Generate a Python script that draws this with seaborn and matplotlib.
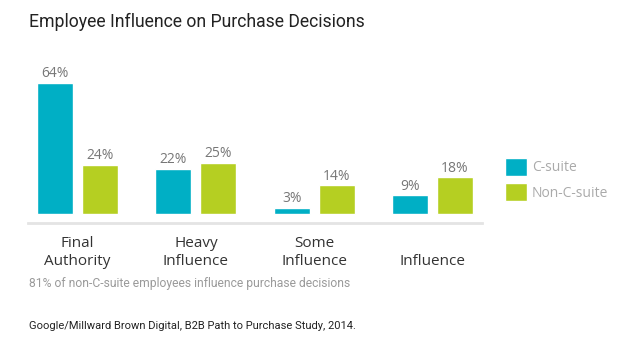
import matplotlib
matplotlib.use("Agg")
import matplotlib.pyplot as plt
import seaborn as sns
import pandas as pd

categories = ["Final\nAuthority", "Heavy\nInfluence", "Some\nInfluence", "Influence"]
series_names = ["C-suite", "Non-C-suite"]
c_suite = [64, 22, 3, 9]
non_c_suite = [24, 25, 14, 18]

title = "Employee Influence on Purchase Decisions"
subtitle = "81% of non-C-suite employees influence purchase decisions"
source = "Google/Millward Brown Digital, B2B Path to Purchase Study, 2014."

TEAL = "#00AFC5"
LIME = "#B5CF22"

df = pd.DataFrame({
    "category": categories * 2,
    "series": [series_names[0]] * 4 + [series_names[1]] * 4,
    "value": c_suite + non_c_suite,
})

sns.set_theme(style="white")
plt.rcParams["font.family"] = ["Open Sans", "DejaVu Sans"]

W, H = 630, 347
fig = plt.figure(figsize=(W / 100, H / 100), dpi=100)
ax = fig.add_axes([28 / W, (H - 223) / H, (482 - 28) / W, (223 - 60) / H])

sns.barplot(data=df, x="category", y="value", hue="series",
            hue_order=series_names, order=categories,
            palette=[TEAL, LIME], width=0.76, gap=0.2,
            saturation=1, ax=ax, legend=True)

ax.set_xlim(-0.418, 3.418)
ax.set_ylim(-4.4, 75)
ax.set_xlabel("")
ax.set_ylabel("")
ax.set_yticks([])
for s in ["top", "right", "left"]:
    ax.spines[s].set_visible(False)
ax.spines["bottom"].set_color("#E4E4E4")
ax.spines["bottom"].set_linewidth(2)

for cont in ax.containers:
    ax.bar_label(cont, labels=[f"{v:.0f}%" for v in cont.datavalues],
                 padding=1, color="#777777", fontsize=10)

ax.tick_params(axis="x", length=0, pad=33, labelsize=11, labelcolor="#333333")
for lbl in ax.get_xticklabels():
    lbl.set_verticalalignment("bottom")
    lbl.set_linespacing(1.25)

handles, labels = ax.get_legend_handles_labels()
leg = ax.legend(handles, labels, loc="upper left",
                bbox_to_anchor=(505 / W, (H - 158) / H),
                bbox_transform=fig.transFigure, frameon=False,
                borderpad=0, borderaxespad=0, handlelength=1.6,
                handleheight=1.6, handletextpad=0.35, labelspacing=0.55,
                fontsize=10)
for t in leg.get_texts():
    t.set_color("#AAAAAA")

fig.text(29 / W, 1 - 22 / H, title, family=["Roboto", "DejaVu Sans"],
         fontsize=12.7, color="#222222", va="center", ha="left")
fig.text(29 / W, 1 - 284 / H, subtitle, family=["Roboto", "DejaVu Sans"],
         fontsize=8.75, color="#9A9A9A", va="center", ha="left")
fig.text(29 / W, 1 - 326 / H, source, family=["Roboto", "DejaVu Sans"],
         fontsize=8, color="#222222", va="center", ha="left")

fig.savefig("out.png", dpi=100)
